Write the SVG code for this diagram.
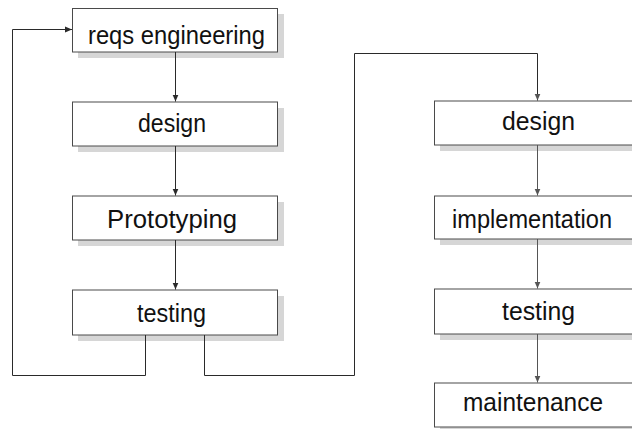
<svg xmlns="http://www.w3.org/2000/svg" width="632" height="429" viewBox="0 0 632 429">
  <style>
    .shadow { fill: #d6d6d6; }
    .box { fill: #ffffff; stroke: #4a4a4a; stroke-width: 1; }
    .label { font-family: "Liberation Sans", Arial, sans-serif; font-size: 26px; fill: #111111; text-anchor: middle; }
    .link { fill: none; stroke: #2a2a2a; stroke-width: 1; }
    .link2 { fill: none; stroke: #555555; stroke-width: 1; }
  </style>
  <defs>
    <marker id="arrow" markerWidth="8" markerHeight="8" refX="7" refY="4" orient="auto" markerUnits="userSpaceOnUse">
      <path d="M0,1 L7,4 L0,7 Z" fill="#2a2a2a"/>
    </marker>
    <marker id="arrow2" markerWidth="8" markerHeight="8" refX="7" refY="4" orient="auto" markerUnits="userSpaceOnUse">
      <path d="M0,1 L7,4 L0,7 Z" fill="#555555"/>
    </marker>
  </defs>

  <!-- prototype cycle -->
  <g id="reqs-engineering">
    <rect class="shadow" x="78" y="14" width="206" height="44"/>
    <rect class="box" x="72.5" y="8.5" width="205" height="43.5"/>
    <text class="label" x="176.5" y="44" textLength="177" lengthAdjust="spacingAndGlyphs">reqs engineering</text>
  </g>
  <g id="proto-design">
    <rect class="shadow" x="78" y="108" width="206" height="44"/>
    <rect class="box" x="72.5" y="102" width="205" height="44"/>
    <text class="label" x="172" y="132" textLength="68" lengthAdjust="spacingAndGlyphs">design</text>
  </g>
  <g id="prototyping">
    <rect class="shadow" x="78" y="202" width="206" height="44"/>
    <rect class="box" x="72.5" y="196" width="205" height="44"/>
    <text class="label" x="172" y="228" textLength="130" lengthAdjust="spacingAndGlyphs">Prototyping</text>
  </g>
  <g id="proto-testing">
    <rect class="shadow" x="78" y="296" width="206" height="45"/>
    <rect class="box" x="72.5" y="290" width="205" height="45"/>
    <text class="label" x="171.5" y="322" textLength="69" lengthAdjust="spacingAndGlyphs">testing</text>
  </g>

  <!-- production sequence -->
  <g id="design">
    <rect class="shadow" x="440" y="107" width="206" height="44"/>
    <rect class="box" x="434.5" y="101" width="206" height="44"/>
    <text class="label" x="538.5" y="130" textLength="73" lengthAdjust="spacingAndGlyphs">design</text>
  </g>
  <g id="implementation">
    <rect class="shadow" x="440" y="202" width="206" height="43"/>
    <rect class="box" x="434.5" y="196" width="206" height="43"/>
    <text class="label" x="532" y="228" textLength="160" lengthAdjust="spacingAndGlyphs">implementation</text>
  </g>
  <g id="testing">
    <rect class="shadow" x="440" y="295" width="206" height="45"/>
    <rect class="box" x="434.5" y="289" width="206" height="45"/>
    <text class="label" x="538.5" y="320" textLength="73" lengthAdjust="spacingAndGlyphs">testing</text>
  </g>
  <g id="maintenance">
    <rect class="shadow" x="440" y="389" width="206" height="45"/>
    <rect class="box" x="434.5" y="383" width="206" height="44"/>
    <text class="label" x="533" y="411" textLength="140" lengthAdjust="spacingAndGlyphs">maintenance</text>
  </g>

  <g id="connectors">
    <path class="link" d="M175.5,52 V101.5" marker-end="url(#arrow)"/>
    <path class="link" d="M175.5,146 V195.5" marker-end="url(#arrow)"/>
    <path class="link" d="M175.5,240 V289.5" marker-end="url(#arrow)"/>
    <path class="link" d="M145.5,335 V375.5 H12.5 V29.5 H72" marker-end="url(#arrow)"/>
    <path class="link" d="M204.5,335 V375.5 H354.5 V53.5 H537.5 V100.5" marker-end="url(#arrow2)"/>
    <path class="link2" d="M537.5,145 V195.5" marker-end="url(#arrow2)"/>
    <path class="link2" d="M537.5,239 V288.5" marker-end="url(#arrow2)"/>
    <path class="link2" d="M537.5,334 V382.5" marker-end="url(#arrow2)"/>
  </g>
</svg>
